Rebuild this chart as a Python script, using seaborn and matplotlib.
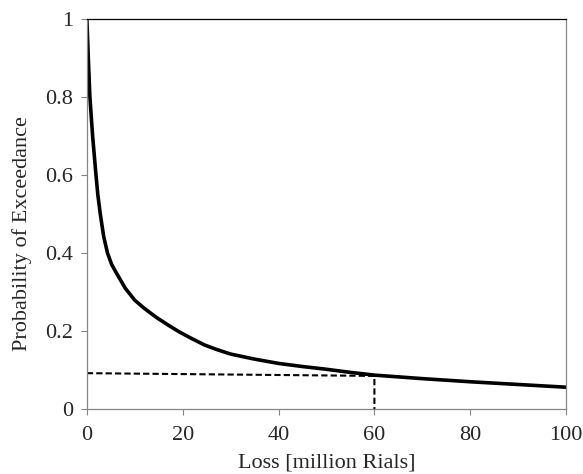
import matplotlib
matplotlib.use('Agg')
import matplotlib.pyplot as plt
import seaborn as sns
import pandas as pd

# Loss exceedance curve
loss = [0, 0.3, 0.63, 1.2, 1.9, 2.3, 2.8, 3.5, 4.3, 5.2, 6.2, 8, 10, 12, 14.5, 17, 19.4, 22,
        24.6, 27, 30, 35, 40, 45, 50, 55, 60, 70, 80, 90, 100]
prob = [1.0, 0.9, 0.8, 0.7, 0.6, 0.548, 0.5, 0.443, 0.4, 0.37, 0.348, 0.31, 0.279, 0.258,
        0.235, 0.215, 0.197, 0.18, 0.164, 0.153, 0.141, 0.128, 0.117, 0.109, 0.102, 0.094,
        0.087, 0.078, 0.070, 0.063, 0.056]

# Dashed guide lines
guide_x = [0, 60, 60]
guide_y = [0.092, 0.085, 0.0]

xticks = [0, 20, 40, 60, 80, 100]
yticks = [0, 0.2, 0.4, 0.6, 0.8, 1]
ytick_labels = ['0', '0.2', '0.4', '0.6', '0.8', '1']

sns.set_style('white')
plt.rcParams['font.family'] = ['Liberation Serif', 'DejaVu Serif']

df = pd.DataFrame({'loss': loss, 'prob': prob})

fig = plt.figure(figsize=(5.83, 4.74), dpi=100)
ax = fig.add_axes([0.149, 0.137, 0.822, 0.823])

sns.lineplot(data=df, x='loss', y='prob', ax=ax, color='black', linewidth=2.6, sort=False)
ax.plot(guide_x, guide_y, color='black', linestyle='--', linewidth=1.5, dashes=(3, 1.5))

ax.set_xlim(0, 100)
ax.set_ylim(0, 1)
ax.set_xticks(xticks)
ax.set_yticks(yticks)
ax.set_yticklabels(ytick_labels)
ax.set_xlabel('Loss [million Rials]', fontsize=16, labelpad=6)
ax.set_ylabel('Probability of Exceedance', fontsize=16)
ax.yaxis.set_label_coords(-0.115, 0.45)
ax.tick_params(axis='both', labelsize=16, direction='out', length=4, width=0.8,
               color='#868686', bottom=True, left=True)
ax.tick_params(axis='x', pad=8)
ax.tick_params(axis='y', pad=6)

for side in ['left', 'bottom', 'right']:
    ax.spines[side].set_color('#868686')
    ax.spines[side].set_linewidth(0.9)
ax.spines['top'].set_color('black')
ax.spines['top'].set_linewidth(0.9)

fig.savefig('out.png', dpi=100)
